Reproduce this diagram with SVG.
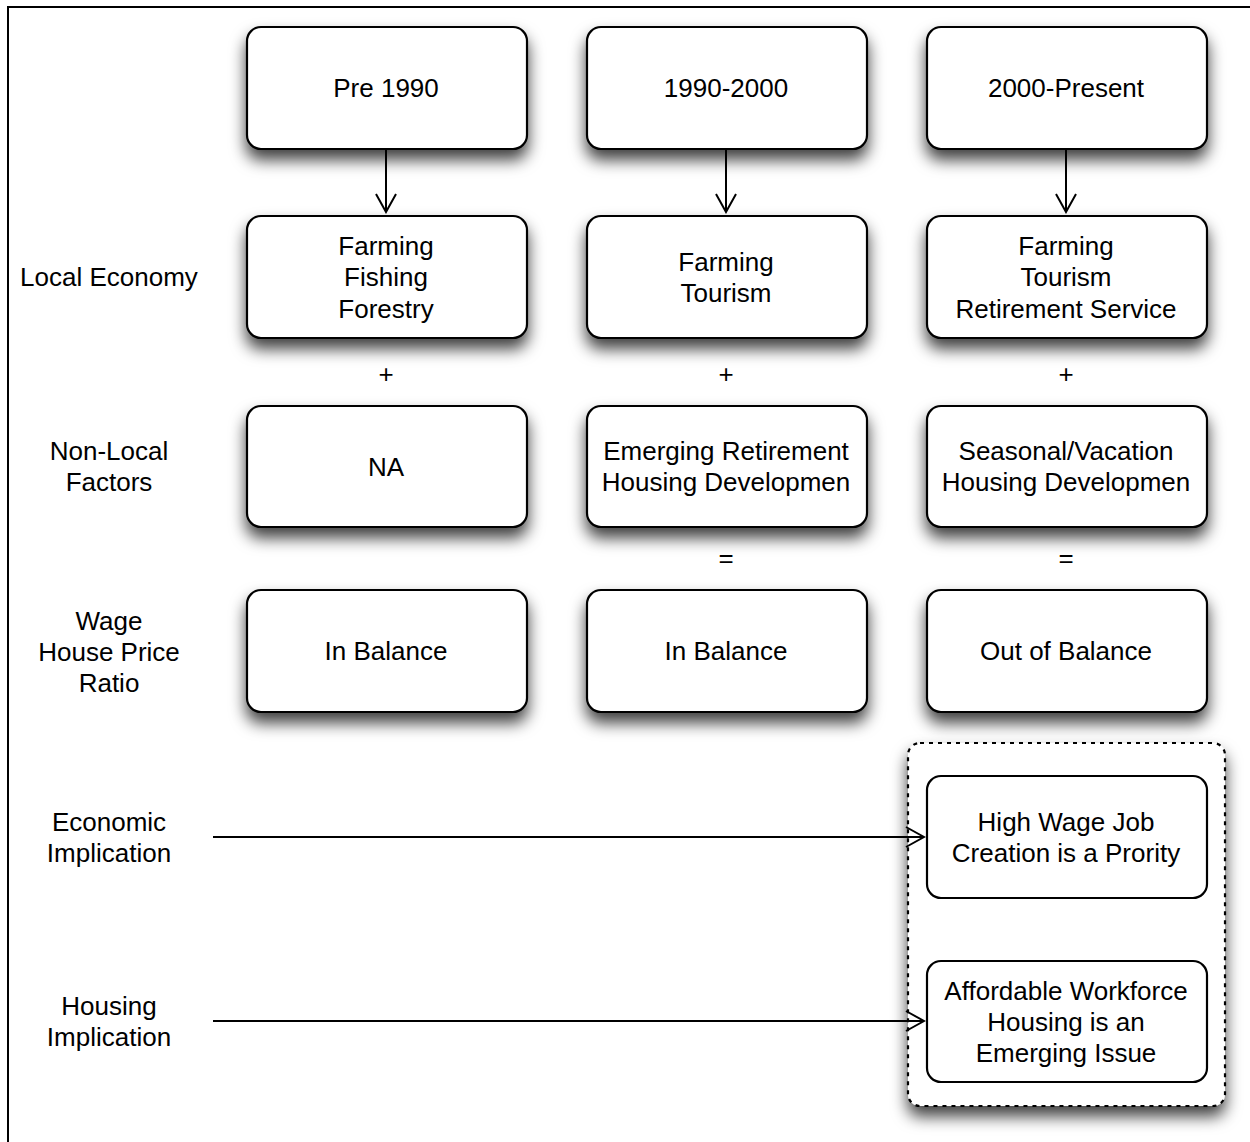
<svg xmlns="http://www.w3.org/2000/svg" width="1250" height="1142" viewBox="0 0 1250 1142">
<style>
.box{fill:#fff;stroke:#000;stroke-width:2.2}
.t{font-family:"Liberation Sans",Arial,sans-serif;font-size:26px;fill:#000;text-anchor:middle}
.c{stroke:#000;stroke-width:2;fill:none}
</style>
<defs>
<filter id="sh" x="-20%" y="-20%" width="140%" height="170%">
<feDropShadow dx="0" dy="10" stdDeviation="8" flood-color="#000" flood-opacity="0.75"/>
</filter>
<marker id="ah" markerWidth="22" markerHeight="22" refX="20" refY="11" orient="auto" markerUnits="userSpaceOnUse">
<path d="M2,1 L20,11 L2,21" fill="none" stroke="#000" stroke-width="2"/>
</marker>
</defs>
<rect width="1250" height="1142" fill="#fff"/>
<path d="M8,1142 V7 H1250" fill="none" stroke="#000" stroke-width="2"/>

<g id="labels">
<text class="t" x="109" y="286">Local Economy</text>
<text class="t" x="109" y="460">Non-Local</text>
<text class="t" x="109" y="491">Factors</text>
<text class="t" x="109" y="630">Wage</text>
<text class="t" x="109" y="661">House Price</text>
<text class="t" x="109" y="692">Ratio</text>
<text class="t" x="109" y="831">Economic</text>
<text class="t" x="109" y="862">Implication</text>
<text class="t" x="109" y="1015">Housing</text>
<text class="t" x="109" y="1046">Implication</text>
<text class="t" x="386" y="383">+</text>
<text class="t" x="726" y="383">+</text>
<text class="t" x="1066" y="383">+</text>
<text class="t" x="726" y="567">=</text>
<text class="t" x="1066" y="567">=</text>
</g>

<g id="n-pre1990"><rect class="box" filter="url(#sh)" x="247" y="27" width="280" height="122" rx="14"/><text class="t" x="386" y="97">Pre 1990</text></g>
<g id="n-1990-2000"><rect class="box" filter="url(#sh)" x="587" y="27" width="280" height="122" rx="14"/><text class="t" x="726" y="97">1990-2000</text></g>
<g id="n-2000-present"><rect class="box" filter="url(#sh)" x="927" y="27" width="280" height="122" rx="14"/><text class="t" x="1066" y="97">2000-Present</text></g>

<g id="n-le1"><rect class="box" filter="url(#sh)" x="247" y="216" width="280" height="122" rx="14"/><text class="t" x="386" y="255">Farming</text><text class="t" x="386" y="286">Fishing</text><text class="t" x="386" y="318">Forestry</text></g>
<g id="n-le2"><rect class="box" filter="url(#sh)" x="587" y="216" width="280" height="122" rx="14"/><text class="t" x="726" y="271">Farming</text><text class="t" x="726" y="302">Tourism</text></g>
<g id="n-le3"><rect class="box" filter="url(#sh)" x="927" y="216" width="280" height="122" rx="14"/><text class="t" x="1066" y="255">Farming</text><text class="t" x="1066" y="286">Tourism</text><text class="t" x="1066" y="318">Retirement Service</text></g>

<g id="n-nl1"><rect class="box" filter="url(#sh)" x="247" y="406" width="280" height="121" rx="14"/><text class="t" x="386" y="476">NA</text></g>
<g id="n-nl2"><rect class="box" filter="url(#sh)" x="587" y="406" width="280" height="121" rx="14"/><text class="t" x="726" y="460">Emerging Retirement</text><text class="t" x="726" y="491">Housing Developmen</text></g>
<g id="n-nl3"><rect class="box" filter="url(#sh)" x="927" y="406" width="280" height="121" rx="14"/><text class="t" x="1066" y="460">Seasonal/Vacation</text><text class="t" x="1066" y="491">Housing Developmen</text></g>

<g id="n-w1"><rect class="box" filter="url(#sh)" x="247" y="590" width="280" height="122" rx="14"/><text class="t" x="386" y="660">In Balance</text></g>
<g id="n-w2"><rect class="box" filter="url(#sh)" x="587" y="590" width="280" height="122" rx="14"/><text class="t" x="726" y="660">In Balance</text></g>
<g id="n-w3"><rect class="box" filter="url(#sh)" x="927" y="590" width="280" height="122" rx="14"/><text class="t" x="1066" y="660">Out of Balance</text></g>

<g id="n-group"><rect filter="url(#sh)" x="908" y="743" width="317" height="363" rx="12" fill="#fff" stroke="#000" stroke-width="2.2" stroke-dasharray="4,5"/></g>
<g id="n-econ"><rect class="box" x="927" y="776" width="280" height="122" rx="14"/><text class="t" x="1066" y="831">High Wage Job</text><text class="t" x="1066" y="862">Creation is a Prority</text></g>
<g id="n-housing"><rect class="box" x="927" y="961" width="280" height="121" rx="14"/><text class="t" x="1066" y="1000">Affordable Workforce</text><text class="t" x="1066" y="1031">Housing is an</text><text class="t" x="1066" y="1062">Emerging Issue</text></g>

<g id="connectors">
<line class="c" x1="386" y1="149" x2="386" y2="212" marker-end="url(#ah)"/>
<line class="c" x1="726" y1="149" x2="726" y2="212" marker-end="url(#ah)"/>
<line class="c" x1="1066" y1="149" x2="1066" y2="212" marker-end="url(#ah)"/>
<line class="c" x1="213" y1="837" x2="924" y2="837" marker-end="url(#ah)"/>
<line class="c" x1="213" y1="1021" x2="924" y2="1021" marker-end="url(#ah)"/>
</g>
</svg>
